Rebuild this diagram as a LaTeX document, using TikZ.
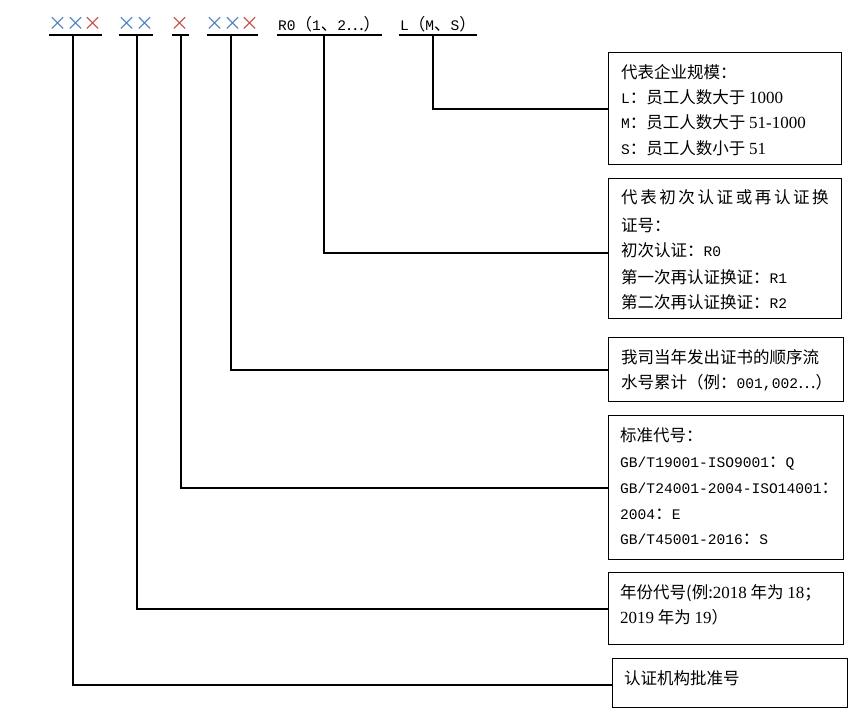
\documentclass[tikz,border=0pt]{standalone}
\usepackage{fontspec}
\setmainfont{Noto Sans CJK SC}
\newfontfamily\monof{Liberation Mono}
\newfontfamily\seriff{Liberation Serif}
\newcommand\mo[1]{{\monof\fontsize{14.6pt}{16pt}\selectfont #1}}
\newcommand\se[1]{{\seriff\fontsize{17pt}{16pt}\selectfont #1}}
\newcommand\ks{\kern2.6pt}
\definecolor{xblue}{HTML}{4F81BD}
\definecolor{xred}{HTML}{C0504D}
\newcommand\xb{\makebox[17.6pt]{\textcolor{xblue}{×}}}
\newcommand\xr{\makebox[17.6pt]{\textcolor{xred}{×}}}
\begin{document}
\begin{tikzpicture}[x=1pt,y=-1pt,
  box/.style={draw, line width=1.1pt, anchor=north west, inner sep=0pt},
  txt/.style={anchor=base west, inner sep=0pt, font=\fontsize{16.5pt}{18pt}\selectfont},
  hd/.style={anchor=base west, inner sep=0pt, font=\fontsize{16.5pt}{18pt}\selectfont},
  xs/.style={anchor=base west, inner sep=0pt, font=\fontsize{19pt}{20pt}\selectfont},
  conn/.style={line width=2pt}]
\useasboundingbox (0,0) rectangle (866,719);

% header
\node[xs] (h1) at (49,31) {\xb\xb\xr};
\node[xs] (h2) at (118,31) {\xb\xb};
\node[xs] (h3) at (171,31) {\xr};
\node[xs] (h4) at (206,31) {\xb\xb\xr};
\node[hd] (h5) at (278,31) {\mo{R0}（\mo{1}、\mo{2}…）};
\node[hd] (h6) at (400,31) {\mo{L}（\mo{M}、\mo{S}）};

\coordinate (l1a) at (49,35.5);  \coordinate (l1b) at (102,35.5);
\coordinate (l2a) at (119,35.5); \coordinate (l2b) at (153,35.5);
\coordinate (l3a) at (172,35.5); \coordinate (l3b) at (189,35.5);
\coordinate (l4a) at (207,35.5); \coordinate (l4b) at (258,35.5);
\coordinate (l5a) at (277,35.5); \coordinate (l5b) at (382,35.5);
\coordinate (l6a) at (399,35.5); \coordinate (l6b) at (477,35.5);
\foreach \i in {1,...,6} {\draw[conn] (l\i a) -- (l\i b);}

\coordinate (u1) at (73,35.5);
\coordinate (u2) at (137,35.5);
\coordinate (u3) at (181,35.5);
\coordinate (u4) at (231,35.5);
\coordinate (u5) at (324,35.5);
\coordinate (u6) at (433,35.5);

% boxes
\node[box, minimum width=233pt, minimum height=112pt] (b1) at (608,52) {};
\node[box, minimum width=233pt, minimum height=140pt] (b2) at (608,178) {};
\node[box, minimum width=235pt, minimum height=64pt] (b3) at (608,337) {};
\node[box, minimum width=235pt, minimum height=144pt] (b4) at (608,415) {};
\node[box, minimum width=235pt, minimum height=72pt] (b5) at (608,572) {};
\node[box, minimum width=235pt, minimum height=49pt] (b6) at (612,658) {};

% connectors
\draw[conn] (u6) |- (b1.west);
\draw[conn] (u5) |- ([yshift=-4pt]b2.west);
\draw[conn] (u4) |- (b3.west);
\draw[conn] (u3) |- (b4.west);
\draw[conn] (u2) |- (b5.west);
\draw[conn] (u1) |- ([yshift=-2pt]b6.west);

% box 1
\node[txt] (t11) at (621,79) {代表企业规模：};
\node[txt] (t12) at (621,104) {\mo{L}：员工人数大于 \se{1000}};
\node[txt] (t13) at (621,129) {\mo{M}：员工人数大于 \se{51-1000}};
\node[txt] (t14) at (621,155) {\mo{S}：员工人数小于 \se{51}};
% box 2
\node[txt] (t21) at (621,204) {代\ks 表\ks 初\ks 次\ks 认\ks 证\ks 或\ks 再\ks 认\ks 证\ks 换};
\node[txt] (t22) at (621,231) {证号：};
\node[txt] (t23) at (621,256) {初次认证：\mo{R0}};
\node[txt] (t24) at (621,283) {第一次再认证换证：\mo{R1}};
\node[txt] (t25) at (621,308) {第二次再认证换证：\mo{R2}};
% box 3
\node[txt] (t31) at (621,363) {我司当年发出证书的顺序流};
\node[txt] (t32) at (621,388) {水号累计（例：\mo{001,002}…）};
% box 4
\node[txt] (t41) at (620,441) {标准代号：};
\node[txt] (t42) at (620,467) {\mo{GB/T19001-ISO9001}：\mo{Q}};
\node[txt] (t43) at (620,493) {\mo{GB/T24001-2004-ISO14001}：};
\node[txt] (t44) at (620,519) {\mo{2004}：\mo{E}};
\node[txt] (t45) at (620,544) {\mo{GB/T45001-2016}：\mo{S}};
% box 5
\node[txt] (t51) at (620,598) {年份代号(例:\se{2018} 年为 \se{18}；};
\node[txt] (t52) at (620,623) {\se{2019} 年为 \se{19}）};
% box 6
\node[txt] (t61) at (624,684) {认证机构批准号};
\end{tikzpicture}
\end{document}
